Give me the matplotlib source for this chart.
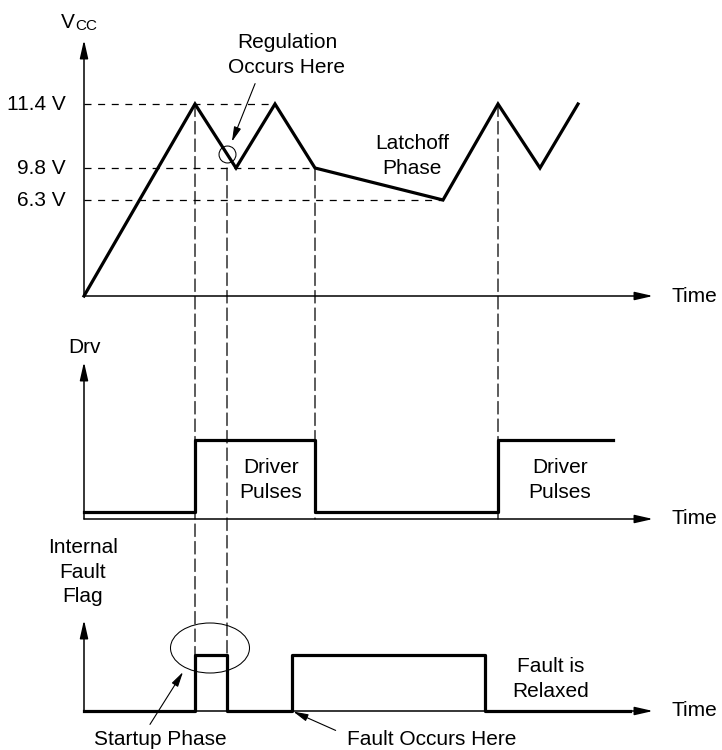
import numpy as np
import matplotlib
matplotlib.use('Agg')
import matplotlib.pyplot as plt
from matplotlib.patches import Ellipse, ConnectionPatch

plt.rcParams['font.family'] = ['Liberation Sans', 'DejaVu Sans']

# --- data (time in arbitrary units) ---
vcc_t = [0, 111, 152, 191, 231, 359, 414, 456, 494]
vcc_v = [0, 11.4, 9.8, 11.4, 9.8, 6.3, 11.4, 9.8, 11.4]
vcc_levels = [11.4, 9.8, 6.3]
vcc_labels = ['11.4 V', '9.8 V', '6.3 V']
reg_t = 143          # regulation point
fault_t = 208        # fault occurs

drv_t = [0, 111, 231, 414, 529]
drv_v = [0, 1, 0, 1, 1]

flag_t = [0, 111, 143, 208, 401, 546]
flag_v = [0, 1, 0, 1, 0, 0]

# vcc axis is drawn schematically (not to scale)
LEV_V = [0, 6.3, 9.8, 11.4]
LEV_P = [0, 96, 128, 192]
SLOPE_HI = (LEV_P[3] - LEV_P[2]) / (LEV_V[3] - LEV_V[2])
SLOPE_LO = LEV_P[1] / LEV_V[1]


def fwd(v):
    v = np.asarray(v, dtype=float)
    mid = np.interp(v, LEV_V, LEV_P)
    return np.where(v < 0, v * SLOPE_LO,
                    np.where(v > LEV_V[-1], LEV_P[-1] + (v - LEV_V[-1]) * SLOPE_HI, mid))


def inv(p):
    p = np.asarray(p, dtype=float)
    mid = np.interp(p, LEV_P, LEV_V)
    return np.where(p < 0, p / SLOPE_LO,
                    np.where(p > LEV_P[-1], LEV_V[-1] + (p - LEV_P[-1]) / SLOPE_HI, mid))


W, H = 722, 750
FS = 15
LS = 1.38
fig = plt.figure(figsize=(W / 100, H / 100), dpi=100)


def add_panel(y_top, y_bot):
    ax = fig.add_axes([84 / W, 1 - y_bot / H, (680 - 84) / W, (y_bot - y_top) / H])
    ax.set_xlim(0, 596)
    ax.set_axis_off()
    return ax


ax1 = add_panel(40, 296)
ax2 = add_panel(362, 519)
ax3 = add_panel(620, 711)

ax1.set_yscale('function', functions=(fwd, inv))
ax1.set_ylim(0, 13.0)
ax2.set_ylim(-0.097, 2.083)
ax3.set_ylim(0, 1.625)

AX_ARROW = dict(arrowstyle='-|>,head_length=1.1,head_width=0.25', mutation_scale=10,
                lw=1.1, color='black', shrinkA=0, shrinkB=0)
NOTE_ARROW = dict(arrowstyle='-|>,head_length=0.9,head_width=0.22', mutation_scale=10,
                  lw=0.8, color='black')

for ax in (ax1, ax2, ax3):
    y0, y1 = ax.get_ylim()
    ax.annotate('', xy=(569, y0), xytext=(0, y0), arrowprops=AX_ARROW, annotation_clip=False)
    ax.annotate('', xy=(0, y1), xytext=(0, y0), arrowprops=AX_ARROW, annotation_clip=False)
    ax.text(588, y0, 'Time', ha='left', va='center', fontsize=FS)

# --- Vcc panel ---
ax1.plot(vcc_t, vcc_v, color='black', lw=2.3, solid_joinstyle='miter', clip_on=False)
for lev, lab, idx in zip(vcc_levels, vcc_labels, [3, 4, 5]):
    ax1.plot([0, vcc_t[idx]], [lev, lev], color='black', lw=0.9,
             linestyle=(0, (5.6, 5.3)))
    ax1.annotate(lab, xy=(0, lev), xytext=(-13, 0), textcoords='offset points',
                 ha='right', va='center', fontsize=FS)

reg_v = np.interp(reg_t, vcc_t, vcc_v)
ax1.plot(reg_t, reg_v, 'o', ms=12.2, mfc='none', mec='black', mew=0.75, clip_on=False)
ax1.annotate('Regulation\nOccurs Here', xy=(reg_t, reg_v), xytext=(203, 0.941),
             textcoords=ax1.get_xaxis_transform(), ha='center', va='center',
             fontsize=FS, linespacing=LS,
             arrowprops=dict(NOTE_ARROW, relpos=(0.25, 0), shrinkA=3, shrinkB=9.5))
ax1.text(328, 0.547, 'Latchoff\nPhase', transform=ax1.get_xaxis_transform(),
         ha='center', va='center', fontsize=FS, linespacing=LS)
ax1.annotate('V', xy=(0, 1), xycoords='axes fraction', xytext=(-6.5, 8.6),
             textcoords='offset points', ha='right', va='baseline', fontsize=FS)
ax1.annotate('CC', xy=(0, 1), xycoords='axes fraction', xytext=(-6.5, 7.2),
             textcoords='offset points', ha='left', va='baseline', fontsize=11)

# --- Drv panel ---
ax2.plot(drv_t, drv_v, drawstyle='steps-post', color='black', lw=2.3, clip_on=False)
for tx in (187, 476):
    ax2.text(tx, 0.248, 'Driver\nPulses', transform=ax2.get_xaxis_transform(),
             ha='center', va='center', fontsize=FS, linespacing=LS)
ax2.annotate('Drv', xy=(0, 1), xycoords='axes fraction', xytext=(0, 6.5),
             textcoords='offset points', ha='center', va='baseline', fontsize=FS)

# --- fault flag panel ---
ax3.plot(flag_t, flag_v, drawstyle='steps-post', color='black', lw=2.3, clip_on=False)
ax3.add_patch(Ellipse((126, 1.125), 79, 0.893, fill=False, lw=0.75, clip_on=False))
ax3.text(-1, 1.527, 'Internal\nFault\nFlag', transform=ax3.get_xaxis_transform(),
         ha='center', va='center', fontsize=FS, linespacing=LS)
ax3.text(467, 0.352, 'Fault is\nRelaxed', transform=ax3.get_xaxis_transform(),
         ha='center', va='center', fontsize=FS, linespacing=LS)
ax3.annotate('Startup Phase', xy=(99, 0.696), xytext=(76, -0.308),
             textcoords=ax3.get_xaxis_transform(), ha='center', va='center', fontsize=FS,
             arrowprops=dict(NOTE_ARROW, relpos=(0.4, 1), shrinkA=2, shrinkB=0))
ax3.annotate('Fault Occurs Here', xy=(fault_t, 0), xytext=(348, -0.308),
             textcoords=ax3.get_xaxis_transform(), ha='center', va='center', fontsize=FS,
             arrowprops=dict(NOTE_ARROW, relpos=(0, 0.68), shrinkA=7, shrinkB=1))

# --- vertical guides crossing the panels ---
guides = [(vcc_t[1], 11.4, ax3, 1), (reg_t, 9.8, ax3, 1),
          (vcc_t[4], 9.8, ax2, ax2.get_ylim()[0]), (vcc_t[6], 11.4, ax2, ax2.get_ylim()[0])]
for t, va, axb, vb in guides:
    con = ConnectionPatch(xyA=(t, va), coordsA=ax1.transData, xyB=(t, vb),
                          coordsB=axb.transData, color='black', lw=0.9,
                          linestyle=(0, (10, 4)))
    fig.add_artist(con)

fig.savefig('out.png', dpi=100)
